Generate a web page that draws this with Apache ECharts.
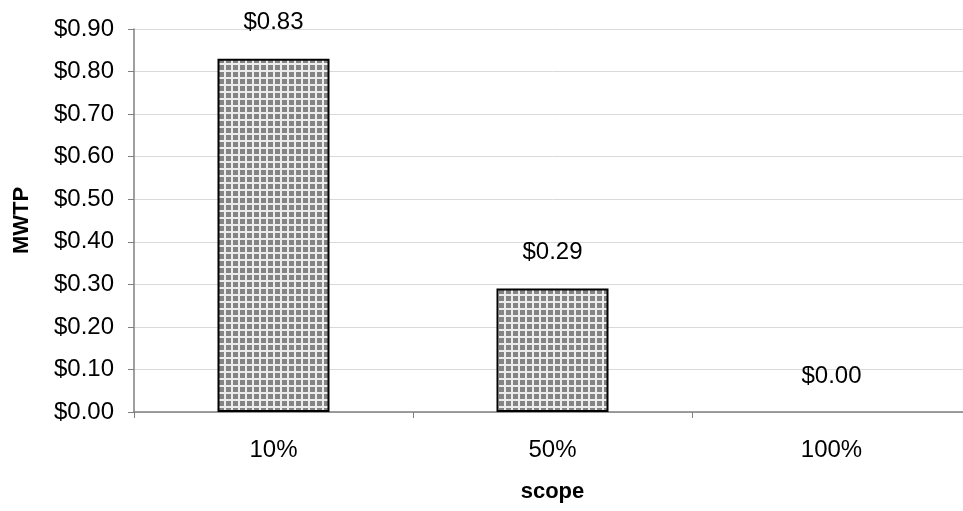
<!DOCTYPE html>
<html>
<head>
<meta charset="utf-8">
<script src="https://cdn.jsdelivr.net/npm/echarts@6/dist/echarts.min.js"></script>
<style>
html,body{margin:0;padding:0;background:#fff;overflow:hidden;width:963px;height:511px;}
#chart{width:971px;height:511px;}
</style>
</head>
<body>
<div id="chart"></div>
<script>
const categories = ['10%', '50%', '100%'];
const mwtpValues = [0.83, 0.29, 0.00];
const yAxisName = 'MWTP';
const xAxisName = 'scope';

function makePattern() {
  const c = document.createElement('canvas');
  c.width = 7; c.height = 7;
  const ctx = c.getContext('2d');
  ctx.fillStyle = '#ececec';
  ctx.fillRect(0, 0, 7, 7);
  ctx.fillStyle = '#848484';
  ctx.fillRect(2, 2, 5, 5);
  return c;
}

const chart = echarts.init(document.getElementById('chart'), null, {renderer: 'canvas'});
const font = 'Liberation Sans, Arial, sans-serif';
chart.setOption({
  animation: false,
  backgroundColor: '#ffffff',
  grid: {left: 134, top: 29, right: 0, bottom: 99},
  xAxis: {
    type: 'category',
    data: categories,
    name: xAxisName,
    nameLocation: 'middle',
    nameGap: 69,
    nameTextStyle: {fontFamily: font, fontSize: 22, fontWeight: 'bold', color: '#000'},
    axisLine: {lineStyle: {color: '#808080', width: 1.5}},
    axisTick: {show: true, length: 6, lineStyle: {color: '#808080'}},
    axisLabel: {margin: 26, fontFamily: font, fontSize: 24, color: '#000'},
    splitLine: {show: false}
  },
  yAxis: {
    type: 'value',
    min: 0, max: 0.9, interval: 0.1,
    name: yAxisName,
    nameLocation: 'middle',
    nameGap: 101,
    nameRotate: 90,
    nameTextStyle: {fontFamily: font, fontSize: 22, fontWeight: 'bold', color: '#000'},
    axisLine: {show: true, lineStyle: {color: '#808080', width: 1.5}},
    axisTick: {show: true, length: 6, lineStyle: {color: '#808080'}},
    axisLabel: {margin: 20, fontFamily: font, fontSize: 24, color: '#000',
      formatter: v => '$' + v.toFixed(2)},
    splitLine: {show: true, lineStyle: {color: '#d9d9d9', width: 1}}
  },
  series: [{
    type: 'bar',
    data: mwtpValues.map(v => v === 0 ? {value: v, itemStyle: {borderWidth: 0}} : v),
    barWidth: 112,
    itemStyle: {
      color: {image: makePattern(), repeat: 'repeat'},
      borderColor: '#000',
      borderWidth: 2
    },
    label: {
      show: true,
      position: 'top',
      distance: 24,
      fontFamily: font,
      fontSize: 24,
      color: '#000',
      formatter: p => '$' + p.value.toFixed(2)
    }
  }]
});
</script>
</body>
</html>
